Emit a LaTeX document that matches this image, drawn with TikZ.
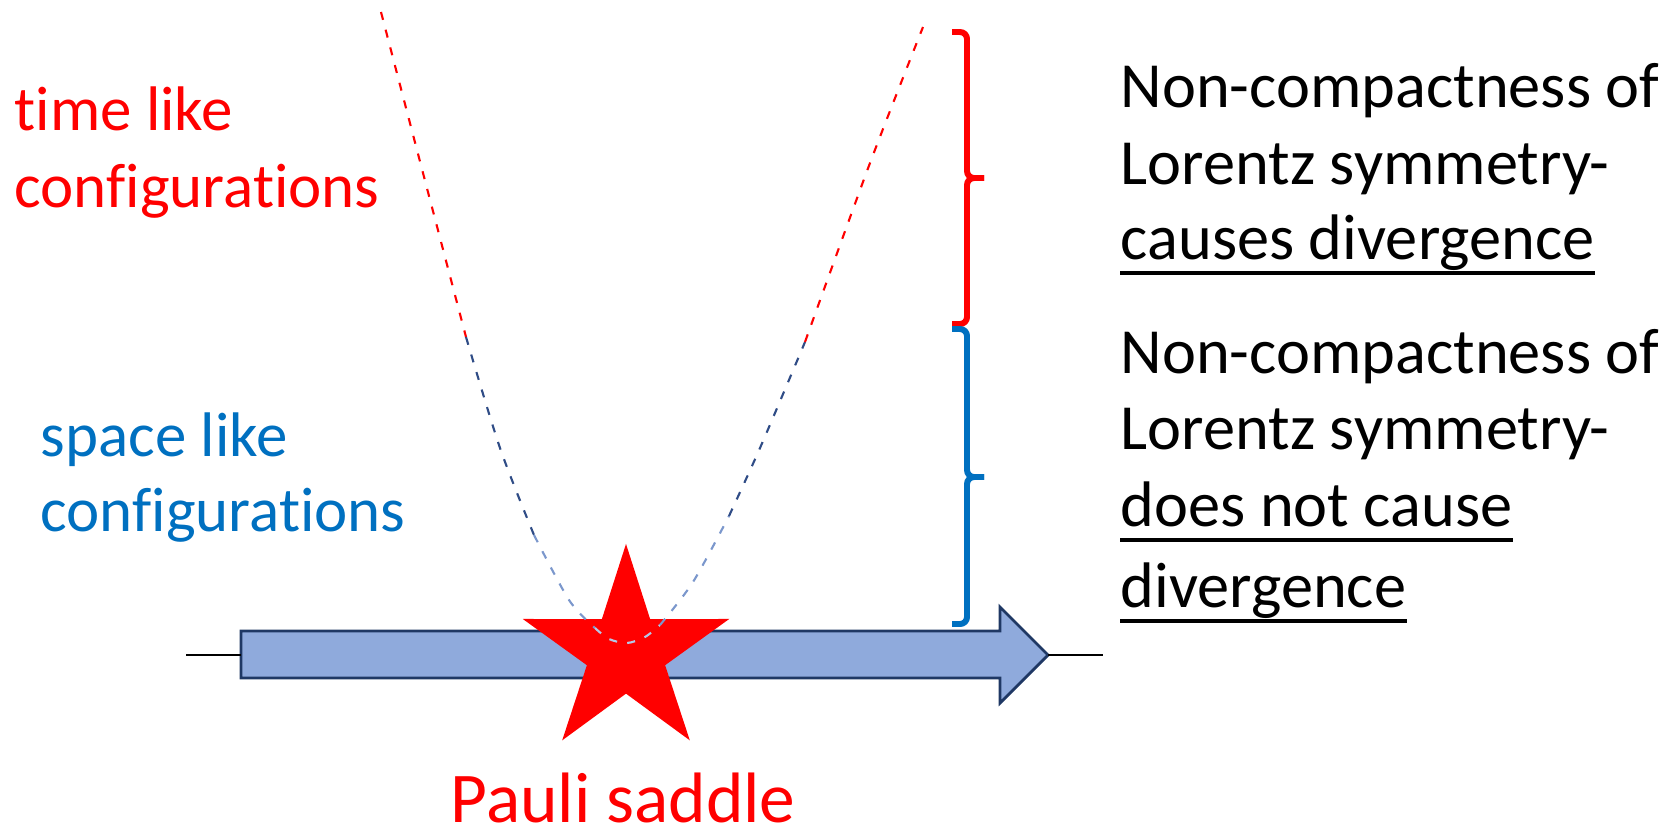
\documentclass[tikz,border=0pt]{standalone}
\usepackage{fontspec}
\setmainfont{Carlito}[Ligatures=NoCommon, Contextuals=NoAlternate, RawFeature=-liga]
\usetikzlibrary{shapes.geometric, positioning}
\definecolor{timered}{HTML}{FF0000}
\definecolor{spaceblue}{HTML}{0070C0}
\definecolor{axisfill}{HTML}{8FAADC}
\definecolor{axisline}{HTML}{1F3864}
\definecolor{darkdash}{HTML}{2F4C86}
\definecolor{middash}{HTML}{7B97CC}
\definecolor{lightdash}{HTML}{B4C7E7}

\begin{document}
\begin{tikzpicture}[
        x=0.01cm, y=-0.01cm,
        lbl/.style={inner sep=0pt, anchor=base west, font=\fontsize{17.9pt}{21.8pt}\selectfont},
        note/.style={lbl, font=\fontsize{18.3pt}{22pt}\selectfont},
        curve/.style={dash pattern=on 2.3pt off 2.9pt, line width=0.6pt},
        bracket/.style={line width=1.7pt, rounded corners=0.07cm},
        uline/.style={line width=1.15pt}
    ]
        \useasboundingbox (0,0) rectangle (1666,833);

        % axis arrow
        \coordinate (tailL) at (186,655);
        \coordinate (tail) at (241,655);
        \coordinate (tip) at (1048,655);
        \coordinate (tipR) at (1103,655);
        \filldraw[fill=axisfill, draw=axisline, line width=0.8pt] (241,631) -- (1000,631) -- (1000,607) -- (tip) -- (1000,703) -- (1000,678) -- (241,678) -- cycle;
        \draw[line width=0.7pt] (tailL) -- (tail);
        \draw[line width=0.7pt] (tip) -- (tipR);

        % saddle point
        \node[star, star points=5, star point ratio=2.64, minimum size=2.17cm, inner sep=0pt, fill=timered] (saddle) at (626,652.5) {};
        \node[lbl, font=\fontsize{20.3pt}{24pt}\selectfont, text=timered] (pauli) at (450,822) {Pauli saddle};

        % dashed curve
        \draw[curve, timered] plot[smooth] coordinates {(381,12) (423,173) (466,337)};
        \draw[curve, darkdash] plot[smooth] coordinates {(466,337) (500,448) (534,535)};
        \draw[curve, middash] plot[smooth] coordinates {(534,535) (569,600) (595,628)};
        \draw[curve, lightdash] plot[smooth] coordinates {(595,628) (609,639) (627,643) (645,637) (660,625)};
        \draw[curve, middash] plot[smooth] coordinates {(660,625) (693,582) (729,516)};
        \draw[curve, darkdash] plot[smooth] coordinates {(729,516) (760,448) (805,342)};
        \draw[curve, timered] plot[smooth] coordinates {(805,342) (870,163) (923,27)};

        % braces
        \coordinate (redtop) at (952,32);
        \coordinate (redmid) at (984,178);
        \coordinate (redbot) at (952,324);
        \coordinate (bluetop) at (952,329);
        \coordinate (bluemid) at (984,477);
        \coordinate (bluebot) at (952,624);
        \draw[bracket, timered] (redtop) -- (967,32) -- (967,178) -- (redmid);
        \draw[bracket, timered] (redmid) -- (967,178) -- (967,324) -- (redbot);
        \draw[bracket, spaceblue] (bluetop) -- (967,329) -- (967,477) -- (bluemid);
        \draw[bracket, spaceblue] (bluemid) -- (967,477) -- (967,624) -- (bluebot);

        % left labels
        \node[lbl, text=timered] (timeA) at (14,130) {time like};
        \node[lbl, text=timered] (timeB) at (14,207) {configurations};
        \node[lbl, text=spaceblue] (spaceA) at (40,456) {space like};
        \node[lbl, text=spaceblue] (spaceB) at (40,531) {configurations};

        % right labels
        \node[note] (noncA) at (1120,107) {Non-compactness of};
        \node[note] (lorA) at (1120,184) {Lorentz symmetry-};
        \node[note] (causes) at (1120,259) {causes divergence};
        \node[note] (noncB) at (1120,373) {Non-compactness of};
        \node[note] (lorB) at (1120,449) {Lorentz symmetry-};
        \node[note] (notcause) at (1120,526) {does not cause~};
        \node[note] (divB) at (1120,607) {divergence};

        \draw[uline] ([yshift=-0.14cm]causes.base west) -- ([yshift=-0.14cm]causes.base east);
        \draw[uline] ([yshift=-0.14cm]notcause.base west) -- ([yshift=-0.14cm]notcause.base east);
        \draw[uline] ([yshift=-0.14cm]divB.base west) -- ([yshift=-0.14cm]divB.base east);
    \end{tikzpicture}
\end{document}
